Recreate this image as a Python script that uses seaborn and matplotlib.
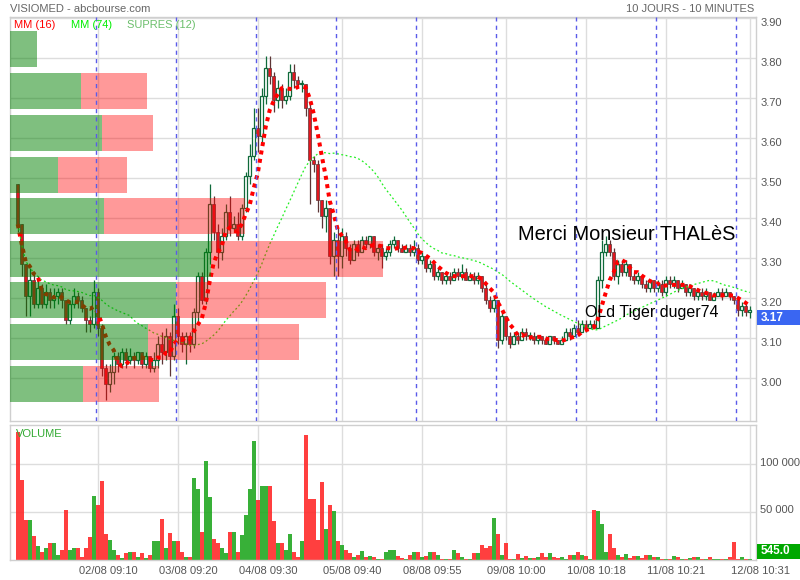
"""VISIOMED intraday chart (10 days, 10-minute bars) in the abcbourse style."""

import matplotlib
matplotlib.use("Agg")
import matplotlib.pyplot as plt
from matplotlib.patches import Rectangle
from matplotlib.transforms import ScaledTranslation, blended_transform_factory
import numpy as np
import pandas as pd
import seaborn as sns

# bars regrouped by 20 per session: 01/08 .. 11/08 full, 12/08 opening only
first_open = 3.485
closes = [
    3.385, 3.285, 3.205, 3.245, 3.185, 3.225, 3.185, 3.215, 3.195, 3.205, 3.215, 3.195, 3.145, 3.185, 3.205, 3.195, 3.175, 3.145, 3.135, 3.215,
    3.125, 3.025, 2.985, 3.015, 3.055, 3.035, 3.065, 3.045, 3.055, 3.045, 3.065, 3.035, 3.055, 3.025, 3.045, 3.085, 3.065, 3.105, 3.055, 3.155,
    3.105, 3.085, 3.105, 3.085, 3.165, 3.255, 3.195, 3.315, 3.435, 3.365, 3.315, 3.355, 3.415, 3.375, 3.385, 3.355, 3.425, 3.505, 3.555, 3.625,
    3.605, 3.705, 3.775, 3.755, 3.695, 3.725, 3.695, 3.705, 3.765, 3.745, 3.735, 3.735, 3.675, 3.545, 3.535, 3.445, 3.405, 3.425, 3.305, 3.345,
    3.305, 3.355, 3.325, 3.295, 3.335, 3.315, 3.345, 3.335, 3.355, 3.315, 3.325, 3.305, 3.315, 3.335, 3.345, 3.325, 3.315, 3.325, 3.315, 3.325,
    3.295, 3.305, 3.275, 3.285, 3.255, 3.265, 3.245, 3.255, 3.245, 3.265, 3.255, 3.265, 3.245, 3.255, 3.245, 3.255, 3.225, 3.195, 3.175, 3.195,
    3.095, 3.155, 3.105, 3.085, 3.105, 3.095, 3.115, 3.105, 3.105, 3.095, 3.105, 3.095, 3.085, 3.105, 3.095, 3.085, 3.095, 3.115, 3.105, 3.125,
    3.115, 3.135, 3.125, 3.135, 3.125, 3.245, 3.315, 3.335, 3.315, 3.255, 3.285, 3.265, 3.285, 3.255, 3.245, 3.255, 3.235, 3.225, 3.245, 3.225,
    3.235, 3.215, 3.245, 3.235, 3.245, 3.225, 3.235, 3.215, 3.225, 3.205, 3.215, 3.205, 3.215, 3.195, 3.205, 3.215, 3.205, 3.215, 3.205, 3.195,
    3.17, 3.18, 3.165, 3.17,
]
highs = [
    3.485, 3.385, 3.285, 3.275, 3.265, 3.255, 3.235, 3.235, 3.225, 3.225, 3.225, 3.225, 3.195, 3.195, 3.225, 3.215, 3.205, 3.175, 3.155, 3.245,
    3.225, 3.135, 3.035, 3.035, 3.065, 3.065, 3.075, 3.075, 3.075, 3.065, 3.065, 3.065, 3.065, 3.055, 3.065, 3.105, 3.115, 3.125, 3.115, 3.185,
    3.175, 3.115, 3.115, 3.115, 3.175, 3.265, 3.265, 3.325, 3.485, 3.455, 3.385, 3.375, 3.435, 3.455, 3.405, 3.415, 3.435, 3.515, 3.585, 3.675,
    3.675, 3.725, 3.805, 3.805, 3.765, 3.745, 3.735, 3.725, 3.785, 3.785, 3.755, 3.745, 3.735, 3.685, 3.555, 3.545, 3.445, 3.445, 3.425, 3.365,
    3.375, 3.375, 3.365, 3.335, 3.345, 3.345, 3.355, 3.355, 3.355, 3.355, 3.335, 3.335, 3.325, 3.345, 3.355, 3.345, 3.335, 3.335, 3.335, 3.345,
    3.335, 3.315, 3.305, 3.295, 3.285, 3.275, 3.265, 3.265, 3.265, 3.275, 3.275, 3.285, 3.275, 3.265, 3.265, 3.265, 3.255, 3.235, 3.205, 3.205,
    3.195, 3.165, 3.155, 3.115, 3.115, 3.115, 3.125, 3.125, 3.115, 3.115, 3.105, 3.105, 3.105, 3.105, 3.105, 3.095, 3.105, 3.125, 3.125, 3.135,
    3.145, 3.145, 3.145, 3.145, 3.145, 3.255, 3.345, 3.355, 3.345, 3.325, 3.295, 3.295, 3.295, 3.285, 3.265, 3.265, 3.255, 3.245, 3.245, 3.245,
    3.245, 3.245, 3.255, 3.255, 3.255, 3.245, 3.245, 3.235, 3.235, 3.225, 3.225, 3.225, 3.225, 3.215, 3.215, 3.225, 3.225, 3.225, 3.215, 3.205,
    3.20, 3.19, 3.19, 3.18,
]
lows = [
    3.365, 3.255, 3.155, 3.155, 3.175, 3.175, 3.175, 3.175, 3.175, 3.175, 3.185, 3.175, 3.135, 3.135, 3.175, 3.175, 3.165, 3.115, 3.115, 3.125,
    3.105, 3.005, 2.945, 2.965, 2.985, 3.015, 3.025, 3.025, 3.035, 3.025, 3.035, 3.025, 3.025, 3.015, 3.015, 3.025, 3.035, 3.045, 3.005, 3.045,
    3.085, 3.065, 3.035, 3.065, 3.075, 3.135, 3.185, 3.185, 3.285, 3.345, 3.275, 3.295, 3.345, 3.355, 3.365, 3.345, 3.345, 3.415, 3.485, 3.545,
    3.565, 3.585, 3.685, 3.735, 3.665, 3.675, 3.675, 3.685, 3.695, 3.725, 3.725, 3.715, 3.655, 3.435, 3.515, 3.415, 3.375, 3.365, 3.285, 3.255,
    3.255, 3.275, 3.305, 3.285, 3.295, 3.305, 3.315, 3.325, 3.325, 3.305, 3.295, 3.275, 3.295, 3.305, 3.325, 3.315, 3.315, 3.315, 3.305, 3.305,
    3.285, 3.285, 3.265, 3.265, 3.245, 3.245, 3.235, 3.235, 3.235, 3.245, 3.245, 3.245, 3.245, 3.245, 3.235, 3.235, 3.215, 3.185, 3.165, 3.165,
    3.075, 3.085, 3.095, 3.075, 3.085, 3.085, 3.095, 3.095, 3.095, 3.085, 3.085, 3.085, 3.085, 3.085, 3.085, 3.085, 3.085, 3.095, 3.095, 3.105,
    3.105, 3.115, 3.115, 3.125, 3.125, 3.125, 3.225, 3.305, 3.305, 3.245, 3.235, 3.255, 3.255, 3.245, 3.235, 3.235, 3.225, 3.215, 3.215, 3.215,
    3.215, 3.205, 3.205, 3.225, 3.225, 3.215, 3.225, 3.205, 3.205, 3.195, 3.195, 3.195, 3.195, 3.195, 3.195, 3.205, 3.195, 3.205, 3.195, 3.185,
    3.155, 3.155, 3.155, 3.15,
]
# volume per bar, thousands of shares
volumes_k = [
    134, 83, 42, 42, 25, 14, 8, 12, 17, 17, 5, 10, 52, 10, 12, 12, 3, 12, 24, 67,
    57, 82, 27, 21, 10, 5, 2, 7, 8, 8, 3, 7, 2, 5, 19, 19, 43, 12, 28, 19,
    19, 8, 3, 3, 86, 74, 29, 103, 66, 22, 17, 12, 7, 29, 29, 8, 26, 47, 74, 125,
    63, 77, 77, 77, 40, 17, 17, 10, 27, 8, 3, 19, 131, 64, 64, 21, 81, 32, 57, 51,
    19, 15, 10, 7, 3, 5, 9, 3, 4, 3, 1, 1, 8, 10, 10, 4, 2, 1, 5, 8,
    8, 3, 4, 8, 8, 5, 1, 1, 1, 10, 7, 3, 1, 0.5, 7, 7, 15, 12, 14, 44,
    27, 5, 17, 1, 1, 6, 2, 4, 2, 2, 3, 7, 3, 7, 3, 2, 3, 1, 5, 5,
    8, 5, 4, 1, 52, 51, 37, 8, 27, 12, 5, 3, 6, 2, 4, 4, 2, 5, 5, 3,
    3, 1, 1, 1, 4, 3, 1, 1, 2, 3, 3, 1, 1, 3, 0.5, 0.5, 0.5, 0.5, 3, 18,
    1, 3, 1, 0.545,
]

# volume at price (SUPRES 12): bin centres, buying and selling volume
profile_price = [2.986, 3.090, 3.195, 3.298, 3.406, 3.509, 3.613, 3.717, 3.822]
profile_up = [73, 138, 166, 200, 94, 48, 92, 71, 27]
profile_down = [76, 150, 149, 172, 140, 69, 51, 66, 0]

tick_bars = [20, 40, 60, 81, 101, 122, 142, 162, 183]
tick_labels = ["02/08 09:10", "03/08 09:20", "04/08 09:30", "05/08 09:40", "08/08 09:55",
               "09/08 10:00", "10/08 10:18", "11/08 10:21", "12/08 10:31"]
session_starts = [20, 40, 60, 80, 100, 120, 140, 160, 180]
price_ticks = [3.00, 3.10, 3.20, 3.30, 3.40, 3.50, 3.60, 3.70, 3.80, 3.90]
volume_ticks = [50000, 100000]

# MM(16) and MM(74) on 10-min bars, rescaled to 20 bars per session
win_short = 6
win_long = 29

sns.set_theme(style="white")
plt.rcParams["font.family"] = ["Liberation Sans", "DejaVu Sans"]

df = pd.DataFrame({"close": closes, "high": highs, "low": lows})
df["bar"] = np.arange(len(df))
df["open"] = df["close"].shift(1).fillna(first_open)
df["up"] = df["close"] >= df["open"]
df["volume"] = np.array(volumes_k) * 1000
df["mm16"] = df["close"].rolling(win_short, min_periods=1).mean()
df["mm74"] = df["close"].rolling(win_long, min_periods=1).mean()

fig = plt.figure(figsize=(8, 5.8), dpi=100)
ax = fig.add_axes([10 / 800, 1 - 421 / 580, 746 / 800, 404 / 580])
axv = fig.add_axes([10 / 800, 1 - 559.5 / 580, 746 / 800, 134.5 / 580], sharex=ax)

x0, x1 = -1.925, 184.575
ax.set_xlim(x0, x1)
ax.set_ylim(2.893, 3.903)
axv.set_ylim(0, 141300)

grid_c = "#dddddd"
for a in (ax, axv):
    a.set_axisbelow(True)
    a.grid(True, color=grid_c, linewidth=1)
    for s in a.spines.values():
        s.set_color("#cfcfcf")
        s.set_linewidth(1)
    a.tick_params(length=0, labelsize=8, colors="#555555")
    a.yaxis.tick_right()

# candles
green_edge = "#0f6a3a"
red_edge = "#5c3535"
up = df[df["up"]]
dn = df[~df["up"]]
ax.vlines(up["bar"], up["low"], up["high"], colors=green_edge, linewidth=0.9, zorder=2)
ax.vlines(dn["bar"], dn["low"], dn["high"], colors=red_edge, linewidth=0.9, zorder=2)
body_lo = df[["open", "close"]].min(axis=1)
body_h = (df["close"] - df["open"]).abs().clip(lower=0.002)
ax.bar(up["bar"], body_h[df["up"]], bottom=body_lo[df["up"]], width=0.85,
       color="white", edgecolor=green_edge, linewidth=0.9, zorder=2.2)
ax.bar(dn["bar"], body_h[~df["up"]], bottom=body_lo[~df["up"]], width=0.85,
       color="#e3161e", edgecolor=red_edge, linewidth=0.5, zorder=2.2)

# moving averages
sns.lineplot(x=df["bar"], y=df["mm74"], ax=ax, color="#22ee22", linewidth=0.9,
             linestyle=(0, (1.5, 2)), zorder=3)
sns.lineplot(x=df["bar"], y=df["mm16"], ax=ax, color="#ff0000", linewidth=2.9,
             linestyle=(0, (1, 1.1)), dash_capstyle="butt", zorder=3.1)

# volume-at-price profile, widest bin spans half of the plot width
tot = np.array(profile_up) + np.array(profile_down)
scale = 0.5 * (x1 - x0) / tot.max()
w_up = np.array(profile_up) * scale
w_dn = np.array(profile_down) * scale
ax.barh(profile_price, w_up, left=x0, height=0.09, color=(0, 0.5, 0), alpha=0.5,
        linewidth=0, zorder=4)
ax.barh(profile_price, w_dn, left=x0 + w_up, height=0.09, color=(1, 0, 0), alpha=0.4,
        linewidth=0, zorder=4)

# session separators
for b in session_starts:
    ax.axvline(b - 0.5, color="#5b5bea", linewidth=1, linestyle=(0, (3, 3)), zorder=5)

ax.set_xticks(tick_bars)
ax.tick_params(labelbottom=False)
ax.set_yticks(price_ticks, labels=[f"{p:.2f}" for p in price_ticks])
ax.set_ylabel("")
ax.set_xlabel("")
down_px = ScaledTranslation(0, -3.5 / 100, fig.dpi_scale_trans)
for lab in ax.get_yticklabels():
    lab.set_va("top")
    lab.set_transform(lab.get_transform() + down_px)
ax.tick_params(axis="y", pad=3)

# annotations left on the chart
ax.text(125.1, 3.358, "Merci Monsieur THALèS", fontsize=14.4, color="black",
        va="center", ha="left", zorder=6)
ax.text(141.8, 3.163, "OLd Tiger duger74", fontsize=11.5, color="black",
        va="center", ha="left", zorder=6)

# last price tag
trp = blended_transform_factory(ax.transAxes, ax.transData)
last = df["close"].iloc[-1]
ax.add_patch(Rectangle((1.0013, last - 0.0375), 0.0576, 0.0375, transform=trp,
                       facecolor="#3a66f2", edgecolor="none", clip_on=False, zorder=6))
ax.text(1.0067, last - 0.019, f"{last:.2f}", transform=trp, color="white",
        fontsize=8.5, fontweight="bold", va="center", ha="left", zorder=7)

# volume panel
palette = {True: "#22a822", False: "#ff2a2a"}
sns.barplot(data=df, x="bar", y="volume", hue="up", palette=palette, native_scale=True,
            dodge=False, width=0.9, saturation=1, alpha=0.9, legend=False, ax=axv,
            linewidth=0, errorbar=None)
axv.set_xlim(x0, x1)
axv.set_ylim(0, 141300)
axv.set_xticks(tick_bars, labels=tick_labels)
axv.set_yticks(volume_ticks, labels=[f"{v:,}".replace(",", " ") for v in volume_ticks])
axv.set_xlabel("")
axv.set_ylabel("")
axv.tick_params(axis="x", pad=5)
axv.tick_params(axis="y", pad=3)
shift_x = ScaledTranslation(10.5 / 100, 0, fig.dpi_scale_trans)
for lab in axv.get_xticklabels():
    lab.set_transform(lab.get_transform() + shift_x)
up3 = ScaledTranslation(0, 2.6 / 100, fig.dpi_scale_trans)
for lab in axv.get_yticklabels():
    lab.set_transform(lab.get_transform() + up3)
axv.text(0.008, 0.935, "VOLUME", transform=axv.transAxes, color="#33aa33",
         fontsize=8, va="center", ha="left")

trv = blended_transform_factory(axv.transAxes, axv.transData)
last_vol = df["volume"].iloc[-1]
axv.add_patch(Rectangle((1.0013, last_vol), 0.0576, 15760, transform=trv,
                        facecolor="#00a800", edgecolor="none", clip_on=False, zorder=6))
axv.text(1.0067, last_vol + 7880, f"{last_vol:.1f}", transform=trv, color="white",
         fontsize=8.5, fontweight="bold", va="center", ha="left", zorder=7)

# header and legend
fig.text(10 / 800, 1 - 9 / 580, "VISIOMED - abcbourse.com", color="#666666",
         fontsize=8, va="center", ha="left")
fig.text(754 / 800, 1 - 9 / 580, "10 JOURS - 10 MINUTES", color="#666666",
         fontsize=8, va="center", ha="right")
fig.text(14 / 800, 1 - 24.5 / 580, "MM (16)", color="#ff0000", fontsize=8, va="center")
fig.text(71 / 800, 1 - 24.5 / 580, "MM (74)", color="#00ee00", fontsize=8, va="center")
fig.text(127 / 800, 1 - 24.5 / 580, "SUPRES (12)", color="#6cbf6c", fontsize=8, va="center")

fig.savefig("out.png", dpi=100)
plt.close(fig)
